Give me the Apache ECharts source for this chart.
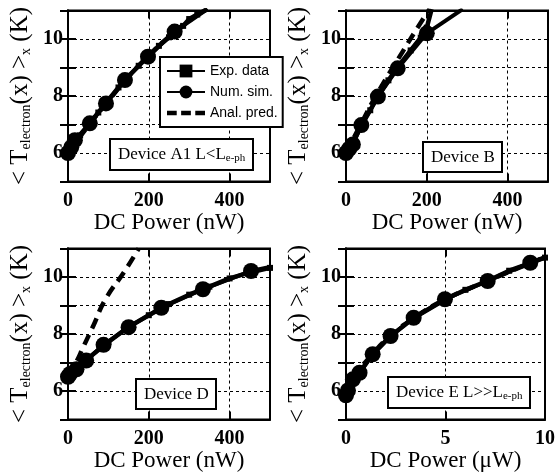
<!DOCTYPE html>
<html>
<head>
<meta charset="utf-8">
<script src="https://cdn.jsdelivr.net/npm/echarts@6/dist/echarts.min.js"></script>
<style>
html, body { margin: 0; padding: 0; background: #fff; }
#chart-container { width: 558px; height: 476px; }
</style>
</head>
<body>
<div id="chart-container"></div>
<script>
// values, [power, temperature]
var aExp = [[0,5.95],[6,6.15],[15,6.35],[30,6.62],[50,6.98],[75,7.42],[100,7.86],[125,8.3],[150,8.7],[175,9.06],[200,9.42],[225,9.76],[250,10.06],[270,10.36],[285,10.46],[300,10.7],[320,10.86],[345,11.05]];
var aNum = [[0,6.0],[8,6.2],[17,6.45],[54,7.04],[94,7.74],[141,8.56],[198,9.38],[264,10.26]];
var aNumEnd = [345,11.05];
var aAnal = [[0,6.0],[50,6.95],[100,7.83],[150,8.68],[200,9.42],[250,10.08],[300,10.65],[345,11.05]];

var bExp = [[0,5.95],[10,6.2],[20,6.45],[40,7.0],[60,7.5],[80,8.0],[105,8.55],[130,9.05],[160,9.6],[185,10.05],[200,10.4],[212,11.05]];
var bNum = [[0,6.0],[8,6.15],[17,6.3],[38,6.98],[79,7.98],[128,8.97],[200,10.2]];
var bNumEnd = [289,11.05];
var bAnal = [[0,6.0],[40,7.1],[80,8.15],[140,9.55],[175,10.35],[207,11.05]];

var dExp = [[0,6.45],[25,6.8],[50,7.15],[100,7.72],[150,8.25],[200,8.66],[250,9.05],[300,9.38],[350,9.66],[400,9.95],[450,10.16],[500,10.32]];
var dNum = [[0,6.5],[5,6.6],[21,6.76],[45,7.07],[88,7.62],[150,8.24],[231,8.92],[334,9.57],[453,10.21]];
var dNumEnd = [500,10.35];
var dAnal = [[0,6.5],[20,7.0],[38,7.55],[63,8.3],[92,9.2],[140,10.2],[175,11.0]];

var eExp = [[0,5.85],[0.1,6.0],[0.35,6.4],[0.7,6.66],[1.3,7.26],[2.2,7.9],[3.4,8.56],[5.0,9.22],[6,9.55],[7.1,9.86],[8.2,10.22],[9.3,10.5],[10,10.68]];
var eNum = [[0,5.85],[0.1,6.02],[0.35,6.41],[0.68,6.64],[1.34,7.29],[2.24,7.93],[3.4,8.57],[4.97,9.22],[7.12,9.86],[9.26,10.5]];
var eNumEnd = [10,10.7];
var eAnal = [[0,5.85],[0.35,6.42],[1.3,7.27],[2.2,7.91],[3.4,8.56],[5.0,9.22],[7.1,9.86],[9.3,10.5],[10,10.7]];

var xNames = ['DC Power (nW)', 'DC Power (nW)', 'DC Power (nW)', 'DC Power (\u03bcW)'];
var xMaxes = [500, 500, 500, 10];
var xSteps = [200, 200, 200, 5];
var yTicks = [5, 11];
var legendNames = ['Exp. data', 'Num. sim.', 'Anal. pred.'];
var deviceLabels = ['{a|Device A1 L<L}{s|e-ph}', '{a|Device B}', '{a|Device D}', '{a|Device E L>>L}{s|e-ph}'];

var panels = [
  { grid: { left: 68, top: 10.5, width: 202, height: 171 }, exp: aExp, num: aNum, numEnd: aNumEnd, anal: aAnal, box: { left: 110, top: 138 } },
  { grid: { left: 346, top: 10.5, width: 202, height: 171 }, exp: bExp, num: bNum, numEnd: bNumEnd, anal: bAnal, box: { left: 423, top: 142 } },
  { grid: { left: 68, top: 248.5, width: 202, height: 171 }, exp: dExp, num: dNum, numEnd: dNumEnd, anal: dAnal, box: { left: 136, top: 379 } },
  { grid: { left: 346, top: 248.5, width: 202, height: 171 }, exp: eExp, num: eNum, numEnd: eNumEnd, anal: eAnal, box: { left: 388, top: 376 } }
];

var serif = 'Liberation Serif';
var dom = document.getElementById('chart-container');
var myChart = echarts.init(dom, null, { renderer: 'canvas' });

var grids = [], xAxes = [], yAxes = [], series = [], titles = [];

panels.forEach(function (p, i) {
  grids.push({ left: p.grid.left, top: p.grid.top, width: p.grid.width, height: p.grid.height,
    show: true, borderColor: '#000', borderWidth: 2, backgroundColor: 'transparent' });

  var tickStyle = { show: true, inside: true, length: 8, lineStyle: { color: '#000', width: 2 } };
  xAxes.push({
    type: 'value', gridIndex: i, min: 0, max: xMaxes[i], interval: xSteps[i],
    axisLine: { show: true, lineStyle: { color: '#000', width: 2 } },
    axisTick: tickStyle,
    axisLabel: { color: '#000', fontFamily: serif, fontWeight: 'bold', fontSize: 20, margin: 9,
      showMaxLabel: i === 3 },
    splitLine: { show: true, lineStyle: { color: '#000', width: 1, type: [3, 3] } },
    name: xNames[i], nameLocation: 'middle', nameGap: 29,
    nameTextStyle: { color: '#000', fontFamily: serif, fontSize: 23 }
  });
  xAxes.push({
    type: 'value', gridIndex: i, position: 'top', min: 0, max: xMaxes[i], interval: xSteps[i],
    axisLine: { show: true, lineStyle: { color: '#000', width: 2 } },
    axisTick: tickStyle, axisLabel: { show: false }, splitLine: { show: false }
  });
  yAxes.push({
    type: 'value', gridIndex: i, min: yTicks[0], max: yTicks[1], interval: 1,
    axisLine: { show: true, lineStyle: { color: '#000', width: 2 } },
    axisTick: tickStyle,
    axisLabel: { color: '#000', fontFamily: serif, fontWeight: 'bold', fontSize: 20, margin: 5,
      formatter: function (v) { return v % 2 === 0 ? String(v) : ''; } },
    splitLine: { show: true, lineStyle: { color: '#000', width: 1, type: [3, 3] } },
    name: '{m|< T}{s|electron}{m|(x) >}{s|x}{m| (K)}', nameLocation: 'middle', nameGap: 35,
    nameTextStyle: { color: '#000', rich: {
      m: { fontFamily: serif, fontSize: 25, color: '#000' },
      s: { fontFamily: serif, fontSize: 14, color: '#000', padding: [12, 0, 0, 0] }
    } }
  });
  yAxes.push({
    type: 'value', gridIndex: i, position: 'right', min: yTicks[0], max: yTicks[1], interval: 1,
    axisLine: { show: true, lineStyle: { color: '#000', width: 2 } },
    axisTick: tickStyle, axisLabel: { show: false }, splitLine: { show: false }
  });

  series.push({
    name: legendNames[2], type: 'line', xAxisIndex: 2 * i, yAxisIndex: 2 * i,
    data: p.anal, symbol: 'none', smooth: true,
    itemStyle: { color: '#000' },
    lineStyle: { color: '#000', width: 4.5, type: [11, 7] }, z: 3
  });
  series.push({
    name: legendNames[0], type: 'line', xAxisIndex: 2 * i, yAxisIndex: 2 * i,
    data: p.exp, symbol: 'rect', symbolSize: 6,
    itemStyle: { color: '#000' }, lineStyle: { color: '#000', width: 4.5 }, z: 4
  });
  series.push({
    name: legendNames[1], type: 'line', xAxisIndex: 2 * i, yAxisIndex: 2 * i,
    data: p.num.concat([{ value: p.numEnd, symbol: 'none' }]), symbol: 'circle', symbolSize: 16,
    itemStyle: { color: '#000' }, lineStyle: { color: '#000', width: 4 }, z: 5
  });

  titles.push({
    text: deviceLabels[i], left: p.box.left, top: p.box.top,
    backgroundColor: '#fff', borderColor: '#000', borderWidth: 2, padding: [7, 8, 6, 8],
    textStyle: { fontWeight: 'normal', rich: {
      a: { fontFamily: serif, fontSize: 17, fontWeight: 'normal', color: '#000' },
      s: { fontFamily: serif, fontSize: 11, fontWeight: 'normal', color: '#000', padding: [8, 0, 0, 0] }
    } }
  });
});

var option = {
  backgroundColor: '#fff',
  animation: false,
  title: titles,
  grid: grids,
  xAxis: xAxes,
  yAxis: yAxes,
  legend: {
    data: [
      { name: legendNames[0] },
      { name: legendNames[1] },
      { name: legendNames[2], icon: 'path://M0,0h11v5h-11zM16,0h11v5h-11zM32,0h11v5h-11z' }
    ],
    orient: 'vertical', left: 160, top: 57,
    backgroundColor: '#fff', borderColor: '#000', borderWidth: 2,
    padding: [7, 5, 7, 6], itemGap: 7, itemWidth: 38, itemHeight: 16,
    textStyle: { fontFamily: 'Liberation Sans', fontSize: 14, color: '#000' },
    z: 10
  },
  series: series
};

myChart.setOption(option);
window.addEventListener('resize', myChart.resize);
</script>
</body>
</html>
